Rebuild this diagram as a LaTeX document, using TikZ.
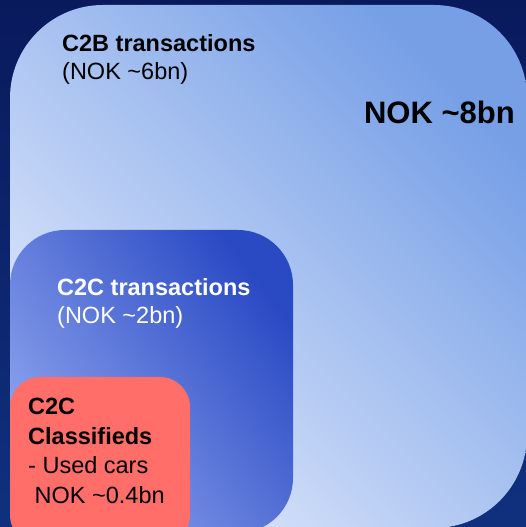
\documentclass[tikz,border=0pt]{standalone}
\usepackage{fontspec}
\usepackage{xcolor}
\setmainfont{Liberation Sans}
\usetikzlibrary{positioning}

\definecolor{navytop}{HTML}{091A5C}
\definecolor{navybottom}{HTML}{10307E}
\definecolor{outerlight}{HTML}{DFE8FC}
\definecolor{outerdark}{HTML}{769FE6}
\definecolor{innerlight}{HTML}{8EA5EE}
\definecolor{innermid}{HTML}{5A78DC}
\definecolor{innerdark}{HTML}{2A4AC4}
\definecolor{classred}{HTML}{FF6E69}

\begin{document}
\begin{tikzpicture}[x=1pt, y=1pt,
    line/.style={inner sep=0pt, anchor=north west, text height=17pt, text depth=5pt,
        font=\fontsize{23.5}{28}\selectfont},
    head/.style={line, font=\fontsize{23.5}{28}\selectfont\bfseries}]

    % page background
    \shade[top color=navytop, bottom color=navybottom] (0,0) rectangle (526,527);
    \useasboundingbox (0,0) rectangle (526,527);
    \clip (0,0) rectangle (526,527);

    % market segments, outer to inner
    \shade[rounded corners=93pt, bottom color=outerlight, top color=outerdark, shading angle=-45]
        (10,-1) rectangle (527,522);
    \shade[rounded corners=55pt, bottom color=innerlight, middle color=innermid, top color=innerdark,
        shading angle=-53] (10,-6) rectangle (293,297);
    \fill[classred, rounded corners=30pt] (10,-18) rectangle (190,150);

    % C2B
    \node[head, anchor=base west] (c2b) at (62,475) {C2B transactions};
    \node[line, below right=5pt and 0pt of c2b.south west] (c2bvalue) {(NOK \textasciitilde6bn)};
    \node[inner sep=0pt, anchor=base east, font=\fontsize{31}{37}\selectfont\bfseries]
        (total) at (515,403) {NOK \textasciitilde8bn};

    % C2C
    \node[head, text=white, anchor=base west] (c2c) at (57,231) {C2C transactions};
    \node[line, text=white, below right=5pt and 0pt of c2c.south west] (c2cvalue) {(NOK \textasciitilde2bn)};

    % classifieds
    \node[head, anchor=base west] (cls) at (28,112) {C2C};
    \node[head, below right=7pt and 0pt of cls.south west] (clsname) {Classifieds};
    \node[line, below right=7pt and 0pt of clsname.south west] (clscars) {- Used cars};
    \node[line, below right=7pt and 0pt of clscars.south west] (clsvalue) {\ NOK \textasciitilde0.4bn};
\end{tikzpicture}
\end{document}
